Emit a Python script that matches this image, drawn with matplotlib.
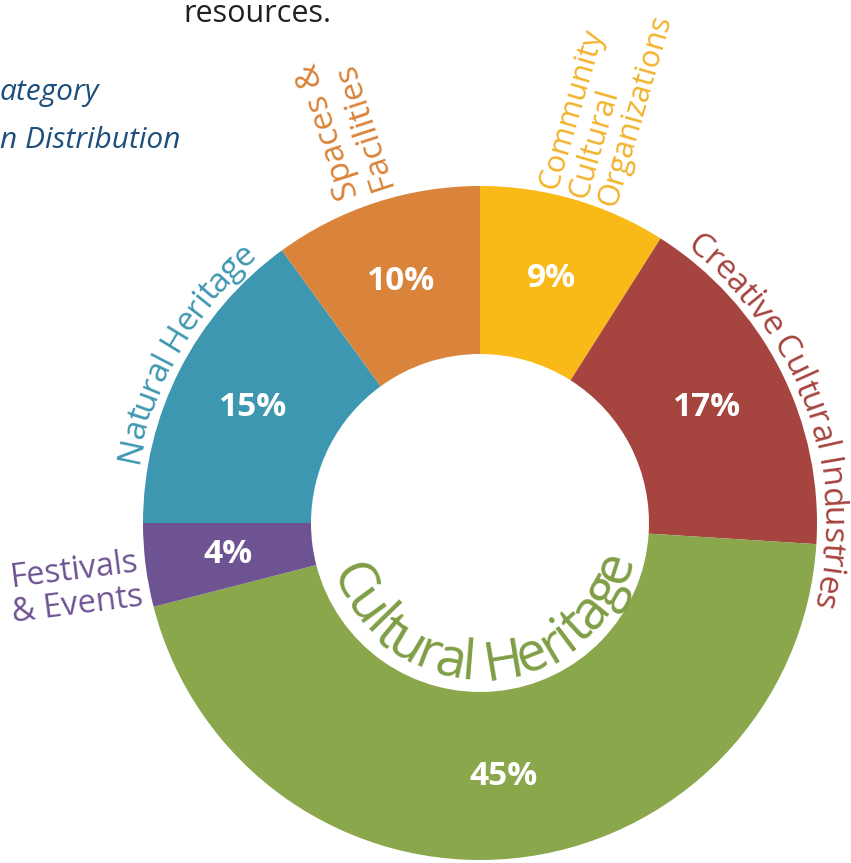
import numpy as np
import matplotlib.pyplot as plt
from matplotlib.font_manager import FontProperties

# slices, clockwise from 12 o'clock
names = ['Community Cultural Organizations', 'Creative Cultural Industries', 'Cultural Heritage',
         'Festivals & Events', 'Natural Heritage', 'Spaces & Facilities']
shares = [9, 17, 45, 4, 15, 10]
colors = ['#F9BA17', '#A6443F', '#8AA74B', '#6E5392', '#3E97B0', '#DA843B']
text_colors = ['#F2B32A', '#A6443F', '#7E9E45', '#6E5392', '#3E97B0', '#D9833A']

FONT = 'Open Sans'
W, H = 851, 863
cx, cy = 480, 340      # donut centre (pixels, y up)
R_out, ring = 337, 168

fig = plt.figure(figsize=(W / 100, H / 100), dpi=100)
ax = fig.add_axes([0, 0, 1, 1])

wedges, _, pcts = ax.pie(shares, colors=colors, startangle=90, counterclock=False,
                         center=(cx, cy), radius=R_out, frame=True,
                         wedgeprops=dict(width=ring, linewidth=0),
                         autopct=lambda p: f'{p:.0f}%', pctdistance=0.755)
for t in pcts:
    t.set(color='white', fontsize=24, fontweight='bold', family=FONT)

ax.set_xlim(0, W)
ax.set_ylim(0, H)
ax.axis('off')

renderer = fig.canvas.get_renderer()


def text_w(s, prop):
    w, h, d = renderer.get_text_width_height_descent(s, prop, ismath=False)
    return w


def arc_text(s, mid_deg, radius, size, color, inward=False, track=1.0):
    # characters laid along a circle round the donut centre
    prop = FontProperties(family=FONT, size=size)
    total = text_w(s, prop) * track
    span = total / radius
    mid = np.radians(mid_deg)
    for i, ch in enumerate(s):
        if ch == ' ':
            continue
        cw = text_w(ch, prop)
        c = (text_w(s[:i + 1], prop) - cw / 2) * track
        if inward:
            th = mid - span / 2 + c / radius
            rot = np.degrees(th) + 90
        else:
            th = mid + span / 2 - c / radius
            rot = np.degrees(th) - 90
        ax.text(cx + radius * np.cos(th), cy + radius * np.sin(th), ch,
                fontproperties=prop, color=color, rotation=rot,
                rotation_mode='anchor', ha='center', va='baseline')


def radial_text(s, ang_deg, radius, rot, size, color, ha):
    a = np.radians(ang_deg)
    ax.text(cx + radius * np.cos(a), cy + radius * np.sin(a), s, family=FONT,
            fontsize=size, color=color, rotation=rot, rotation_mode='anchor',
            ha=ha, va='center', multialignment=ha, linespacing=1.05)


# labels round the ring
radial_text('Community\nCultural\nOrganizations', 73.2, 340, 73.8, 22, text_colors[0], 'left')
arc_text(names[1], 19.5, 343, 24, text_colors[1], track=0.95)
arc_text(names[2], 273, 157, 39, text_colors[2], inward=True, track=0.95)
radial_text('Festivals\n& Events', 189.5, 344, 7.2, 23.5, text_colors[3], 'right')
arc_text(names[4], 150, 347, 24, text_colors[4], track=0.94)
radial_text('Spaces &\nFacilities', 108.9, 349, 108, 24, text_colors[5], 'left')

# surrounding page text, cut by the crop
ax.text(183, 841, 'resources.', family=FONT, fontsize=22, color='#231F20', va='baseline')
ax.text(0, 763, 'ategory', family=FONT, fontsize=21.5, style='italic', color='#1D4F7C', va='baseline')
ax.text(0, 715, 'n Distribution', family=FONT, fontsize=21.5, style='italic', color='#1D4F7C', va='baseline')

fig.savefig('out.png', dpi=100)
